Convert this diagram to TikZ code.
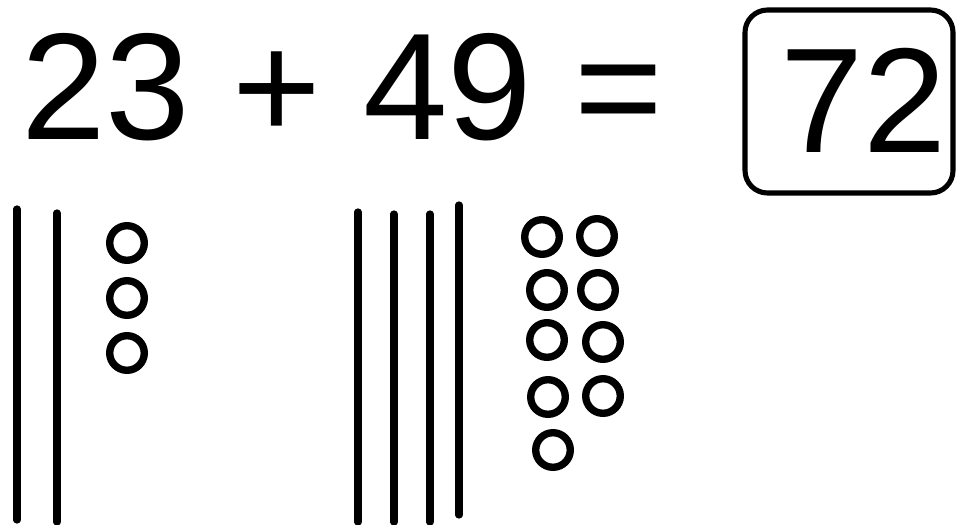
\documentclass[tikz,border=0pt]{standalone}
\usepackage{fontspec}
\setmainfont{Liberation Sans}
\usetikzlibrary{positioning}

\begin{document}
\begin{tikzpicture}[x=.02cm,y=-.02cm,
 stick/.style={line width=4.1pt,line cap=round},
 bead/.style={line width=4.2pt},
 answerbox/.style={line width=2.9pt,rounded corners=.45cm}]
\useasboundingbox (0,0) rectangle (956,524);
% the sum
\node[anchor=base west,inner sep=0,font=\fontsize{86.5}{86.5}\selectfont] (sum) at (21,139) {23 + 49 =};
\node[anchor=base west,inner sep=0,font=\fontsize{85}{85}\selectfont] (answer) at (780,152) {72};
\draw[answerbox] (745,10) rectangle (953,193);
% 23: two tens, three ones
\foreach \x/\t/\b in {17/209/520,57/213/522}{
 \draw[stick] (\x,\t)--(\x,\b);
}
\foreach \y in {243,298,353}{
 \draw[bead] (127,\y) circle (17.3);
}
% 49: four tens, nine ones
\foreach \x/\t/\b in {358/212/522,394/214/522,430/214/522,459/205/515}{
 \draw[stick] (\x,\t)--(\x,\b);
}
\foreach \x/\y in {542/237,597/236,547/290,598/290,547/340,603/342,548/397,603/396,553/450}{
 \draw[bead] (\x,\y) circle (17.3);
}
\end{tikzpicture}
\end{document}
